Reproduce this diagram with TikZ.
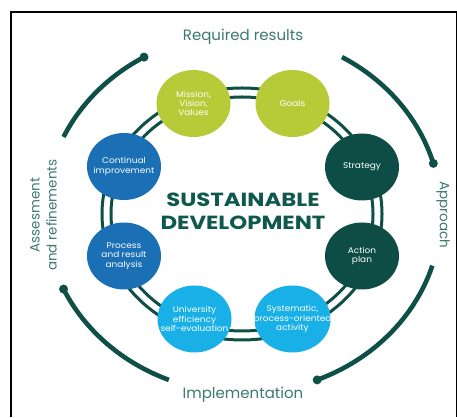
\documentclass[tikz,border=0pt]{standalone}
\usepackage{fontspec}
\setmainfont{Poppins}
\newfontfamily\titlefont[FakeStretch=1.2]{Poppins}
\newfontfamily\stagefont[FakeStretch=1.08]{Poppins}
\usetikzlibrary{shapes.geometric}
\definecolor{lime}{HTML}{B7CA38}
\definecolor{deepteal}{HTML}{0D4D45}
\definecolor{midblue}{HTML}{1B6FB5}
\definecolor{skyblue}{HTML}{18B0E6}
\definecolor{ringcol}{HTML}{0E4F47}
\definecolor{labelcol}{HTML}{3C7A6D}
\definecolor{titlecol}{HTML}{0F584C}
\tikzset{
  stage/.style={ellipse, minimum width=74pt, minimum height=67pt, inner xsep=-12pt, inner ysep=0pt,
    align=center, text=white, font=\stagefont\fontsize{8.3}{9.2}\selectfont},
  outerlabel/.style={text=labelcol, font=\fontsize{15}{17}\selectfont, align=center, inner sep=0pt},
  ring/.style={draw=ringcol, line width=3pt},
  bigarc/.style={draw=ringcol, line width=4.6pt},
  arcdot/.style={fill=ringcol},
  frame/.style={draw=black, line width=1.2pt}
}
\begin{document}
\begin{tikzpicture}[x=1pt,y=1pt]
\useasboundingbox (0,0) rectangle (457,417);
\fill[white] (0,0) rectangle (457,417);
% frame
\coordinate (fa) at (11,0);
\coordinate (fb) at (11,405);
\coordinate (fc) at (457,405);
\coordinate (fd) at (456.3,405);
\coordinate (fe) at (456.3,0);
\draw[frame] (fa) -- (fb) -- (fc);
\draw[frame] (fd) -- (fe);
% double ring
\coordinate (rc) at (242,203);
\draw[ring] (rc) ellipse [x radius=140, y radius=126];
\draw[ring] (rc) ellipse [x radius=131, y radius=117];
% outer arcs
\coordinate (ac) at (243,204);
\draw[bigarc] (ac) ++(120:198 and 180) coordinate (d1) arc[start angle=120, end angle=155, x radius=198, y radius=180];
\draw[bigarc] (ac) ++(16:198 and 180) coordinate (d2) arc[start angle=16, end angle=60, x radius=198, y radius=180];
\draw[bigarc] (ac) ++(-68:198 and 180) coordinate (d3) arc[start angle=-68, end angle=-17, x radius=198, y radius=180];
\draw[bigarc] (ac) ++(205:198 and 180) coordinate (d4) arc[start angle=205, end angle=248, x radius=198, y radius=180];
\fill[arcdot] (d1) circle (4.5);
\fill[arcdot] (d2) circle (4.5);
\fill[arcdot] (d3) circle (4.5);
\fill[arcdot] (d4) circle (4.5);
% stages
\node[stage, fill=lime] (mission) at (193.5,313.5) {Mission,\\Vision,\\Values};
\node[stage, fill=lime] (goals) at (292.5,313.5) {Goals};
\node[stage, fill=deepteal] (strategy) at (362,250) {Strategy};
\node[stage, fill=deepteal] (action) at (362,161) {Action\\plan};
\node[stage, fill=skyblue] (system) at (292.5,98) {Systematic,\\process-oriented\\activity};
\node[stage, fill=skyblue] (univ) at (194.5,98) {University\\efficiency\\self-evaluation};
\node[stage, fill=midblue] (process) at (124,161) {Process\\and result\\analysis};
\node[stage, fill=midblue] (continual) at (124,250.5) {Continual\\improvement};
% center title
\node[text=titlecol, font=\titlefont\bfseries\fontsize{19}{23}\selectfont, align=center] (title) at (243,206) {SUSTAINABLE\\DEVELOPMENT};
% outer labels
\node[outerlabel] (req) at (243,380) {Required results};
\node[outerlabel] (impl) at (243,22) {Implementation};
\node[outerlabel, rotate=-90, font=\fontsize{13.5}{16}\selectfont] (appr) at (443,202) {Approach};
\node[outerlabel, rotate=90, font=\fontsize{13.5}{17}\selectfont] (assess) at (43.5,202) {Assesment\\and refinements};
\end{tikzpicture}
\end{document}
